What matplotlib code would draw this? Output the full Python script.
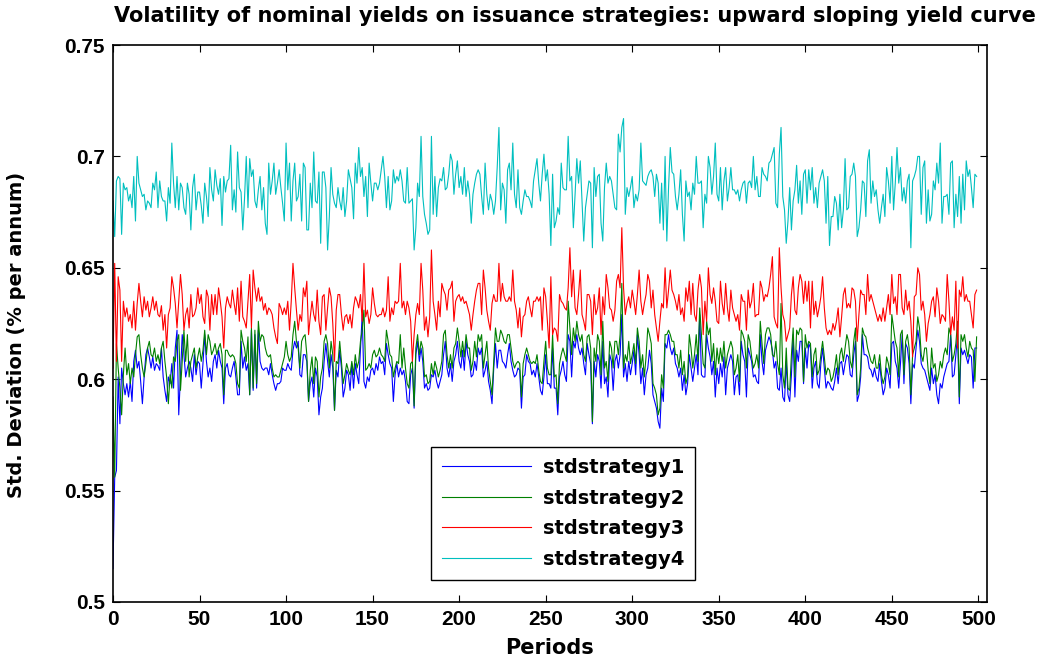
import matplotlib
matplotlib.use("Agg")
import matplotlib.pyplot as plt
import numpy as np

# Std. deviation of nominal yields per period, in thousandths of a percent per annum
std1 = [
    515, 556, 559, 601, 580, 605, 598, 593, 598, 592,
    599, 590, 608, 613, 605, 608, 599, 589, 601, 611,
    614, 610, 605, 610, 604, 607, 606, 604, 614, 601,
    595, 590, 601, 598, 607, 596, 614, 622, 584, 602,
    620, 611, 601, 605, 608, 605, 599, 611, 602, 608,
    607, 596, 607, 620, 608, 601, 605, 599, 608, 611,
    605, 613, 608, 605, 589, 605, 607, 602, 601, 605,
    608, 601, 593, 593, 617, 605, 610, 604, 607, 593,
    622, 595, 620, 596, 622, 608, 605, 604, 605, 605,
    602, 607, 602, 598, 595, 598, 598, 599, 605, 604,
    604, 607, 605, 604, 613, 617, 614, 617,
    602, 601, 611, 611, 608, 590, 598, 601, 592, 605,
    601, 584, 592, 596, 608, 616, 608, 601, 611, 605,
    586, 604, 601, 613, 605, 592, 596, 604, 602, 595,
    607, 596, 607, 602, 598, 614, 629, 599, 596, 601,
    599, 604, 605, 602, 607, 604, 610, 607, 608, 602,
    616, 611, 607, 605, 590, 602, 607, 601,
    605, 602, 604, 599, 590, 589, 602, 605, 587, 611,
    617, 608, 614, 608, 596, 598, 595, 596, 602, 601,
    604, 599, 596, 599, 602, 611, 617, 605, 601, 607,
    599, 608, 611, 617, 608, 605, 613, 604, 617, 611,
    608, 601, 602, 608, 604, 614, 611, 614, 601, 604,
    608, 599, 595, 589, 605, 616, 605, 613,
    613, 608, 607, 605, 611, 616, 608, 604, 601, 602,
    605, 604, 587, 601, 602, 611, 608, 607, 602, 604,
    601, 607, 601, 595, 593, 601, 611, 598, 598, 596,
    614, 596, 596, 584, 601, 604, 608, 602, 599, 620,
    617, 601, 617, 614, 620, 614, 611, 614, 607, 602,
    616, 611, 607, 580, 608, 601, 611,
    608, 596, 617, 598, 601, 592, 611, 608, 595, 608,
    611, 605, 611, 629, 601, 607, 599, 608, 602, 607,
    613, 602, 620, 611, 598, 605, 593, 602, 605, 613,
    607, 593, 590, 587, 581, 578, 596, 590, 616, 614,
    620, 614, 611, 614, 607, 605, 601, 605, 595, 602,
    593, 598, 611, 605, 599, 605, 611, 602,
    629, 602, 601, 601, 620, 614, 610, 602, 608, 592,
    605, 598, 607, 601, 610, 593, 605, 608, 611, 608,
    593, 601, 602, 593, 617, 611, 608, 592, 614, 611,
    608, 601, 602, 599, 598, 620, 608, 602, 613, 616,
    619, 617, 613, 605, 608, 596, 595, 605, 592, 590,
    608, 593, 590, 602, 620, 592, 613, 608,
    617, 617, 598, 614, 605, 616, 614, 596, 605, 608,
    598, 596, 607, 614, 605, 596, 599, 598, 596, 595,
    599, 605, 598, 607, 608, 602, 607, 611, 610, 602,
    601, 611, 617, 590, 593, 601, 620, 611, 611, 610,
    605, 604, 601, 605, 601, 599, 607, 599, 593, 596,
    605, 602, 596, 616, 617, 608, 605, 596,
    607, 620, 598, 616, 614, 607, 589, 607, 605, 614,
    622, 617, 607, 605, 604, 601, 598, 595, 605, 598,
    602, 593, 589, 598, 596, 601, 604, 607, 608, 620,
    601, 602, 611, 620, 589, 614, 611, 613, 610, 607,
    611, 610, 596, 614, 614,
]

std2 = [
    592, 556, 616, 605, 596, 584, 602, 614, 602, 607,
    598, 605, 601, 611, 619, 620, 611, 605, 601, 607,
    614, 617, 611, 610, 614, 608, 611, 607, 614, 617,
    608, 601, 589, 602, 596, 610, 608, 617, 620, 595,
    608, 622, 608, 620, 601, 608, 611, 614, 605, 610,
    614, 608, 613, 622, 611, 620, 617, 611, 613, 616,
    611, 614, 616, 611, 593, 613, 613, 611, 610, 611,
    610, 607, 598, 596, 622, 617, 614, 608, 619, 593,
    623, 596, 622, 598, 626, 617, 620, 619, 614, 611,
    610, 611, 605, 601, 602, 601, 601, 604, 607, 610,
    617, 611, 608, 610, 620, 626, 617, 614,
    605, 617, 619, 620, 611, 590, 604, 610, 598, 610,
    608, 592, 601, 605, 617, 620, 616, 605, 617, 611,
    586, 608, 607, 617, 608, 598, 602, 607, 604, 602,
    608, 602, 611, 605, 608, 617, 622, 631, 604, 605,
    607, 605, 611, 613, 610, 611, 614, 611, 610, 608,
    622, 617, 611, 610, 601, 605, 608, 607,
    620, 605, 614, 605, 598, 596, 607, 608, 588, 614,
    620, 611, 617, 614, 601, 602, 598, 599, 607, 602,
    608, 605, 601, 604, 608, 620, 622, 611, 605, 611,
    605, 614, 616, 623, 617, 610, 617, 610, 620, 614,
    614, 604, 608, 617, 610, 620, 617, 620, 605, 611,
    617, 605, 599, 593, 608, 623, 617, 617,
    622, 620, 617, 616, 620, 620, 614, 608, 605, 607,
    608, 607, 592, 607, 611, 614, 611, 608, 607, 608,
    607, 611, 604, 599, 598, 608, 617, 605, 602, 602,
    620, 601, 602, 589, 607, 611, 614, 611, 608, 635,
    623, 611, 623, 617, 626, 620, 617, 620, 611, 608,
    619, 620, 614, 581, 614, 608, 620,
    617, 602, 626, 605, 608, 599, 617, 614, 605, 617,
    617, 611, 620, 643, 605, 611, 608, 617, 607, 611,
    616, 607, 623, 617, 605, 611, 601, 610, 623, 620,
    616, 598, 596, 593, 584, 587, 602, 596, 620, 620,
    622, 620, 617, 617, 611, 611, 605, 613, 602, 608,
    598, 601, 620, 614, 605, 611, 620, 608,
    632, 620, 607, 605, 626, 620, 623, 608, 616, 602,
    614, 607, 614, 608, 617, 605, 611, 614, 617, 614,
    602, 605, 611, 599, 622, 620, 617, 605, 620, 617,
    610, 605, 607, 611, 605, 626, 616, 607, 620, 623,
    623, 620, 611, 610, 617, 607, 602, 634, 602, 596,
    614, 596, 595, 611, 623, 601, 622, 620,
    623, 622, 599, 620, 614, 617, 616, 601, 611, 614,
    602, 604, 611, 617, 610, 602, 605, 604, 599, 601,
    605, 611, 602, 611, 614, 608, 614, 620, 617, 608,
    605, 617, 623, 593, 596, 605, 623, 620, 619, 614,
    611, 608, 607, 611, 605, 605, 611, 602, 598, 601,
    610, 607, 602, 629, 623, 617, 614, 601,
    620, 622, 602, 617, 620, 614, 593, 611, 614, 617,
    628, 623, 611, 608, 614, 614, 604, 598, 614, 605,
    607, 599, 602, 608, 605, 611, 614, 611, 623, 620,
    608, 611, 616, 626, 592, 620, 617, 620, 614, 610,
    617, 614, 613, 599, 619,
]

std3 = [
    605, 652, 608, 646, 640, 608, 635, 628, 632, 626,
    629, 623, 635, 622, 634, 643, 635, 628, 637, 631,
    635, 628, 632, 637, 631, 635, 629, 628, 633, 622,
    629, 614, 629, 632, 646, 641, 634, 623, 635, 647,
    638, 622, 629, 632, 623, 638, 628, 629, 632, 641,
    634, 638, 628, 625, 640, 637, 622, 638, 629, 638,
    629, 641, 635, 628, 614, 632, 637, 634, 632, 640,
    634, 629, 641, 626, 644, 628, 626, 623, 635, 647,
    623, 649, 641, 635, 641, 635, 637, 631, 634, 629,
    632, 631, 629, 623, 619, 616, 634, 632, 629, 632,
    629, 635, 622, 635, 652, 641, 631, 622,
    629, 626, 641, 637, 644, 620, 628, 635, 629, 626,
    640, 626, 620, 637, 638, 622, 632, 641, 637, 625,
    608, 631, 638, 638, 629, 622, 628, 629, 625, 629,
    623, 632, 637, 635, 632, 638, 626, 652, 628, 631,
    625, 629, 641, 634, 629, 628, 629, 629, 632, 628,
    631, 646, 626, 632, 629, 635, 634, 635,
    652, 632, 635, 629, 635, 632, 626, 608, 620, 629,
    634, 629, 652, 640, 622, 628, 619, 628, 658, 635,
    629, 622, 635, 628, 643, 640, 638, 631, 640, 641,
    644, 626, 635, 637, 638, 635, 637, 634, 635, 632,
    629, 622, 629, 635, 640, 643, 643, 629, 649, 641,
    631, 626, 622, 634, 638, 635, 635, 652,
    635, 643, 637, 635, 635, 637, 635, 649, 635, 631,
    623, 632, 619, 628, 629, 635, 637, 632, 628, 635,
    635, 637, 635, 637, 622, 641, 637, 626, 614, 646,
    620, 623, 622, 617, 638, 635, 634, 632, 631, 641,
    659, 637, 649, 632, 629, 638, 649, 629, 626, 622,
    638, 638, 635, 620, 638, 629, 632,
    641, 620, 637, 629, 647, 641, 632, 631, 626, 631,
    644, 647, 641, 668, 641, 629, 634, 637, 632, 640,
    635, 629, 638, 649, 635, 629, 634, 638, 647, 644,
    632, 640, 629, 623, 617, 626, 634, 632, 650, 632,
    640, 649, 640, 638, 635, 631, 638, 629, 632, 626,
    641, 635, 644, 629, 643, 629, 626, 640,
    647, 641, 620, 635, 626, 650, 638, 634, 641, 635,
    626, 625, 644, 634, 629, 643, 632, 626, 640, 632,
    629, 626, 629, 622, 638, 635, 635, 622, 640, 632,
    635, 643, 628, 629, 629, 644, 641, 635, 638, 637,
    641, 647, 655, 628, 625, 623, 659, 641, 629, 626,
    617, 620, 623, 638, 646, 631, 629, 641,
    647, 644, 634, 644, 635, 644, 623, 644, 629, 635,
    628, 632, 637, 646, 632, 623, 620, 622, 620, 625,
    622, 626, 632, 619, 628, 638, 641, 632, 634, 632,
    641, 640, 635, 617, 629, 640, 638, 638, 629, 647,
    635, 638, 635, 632, 629, 626, 629, 626, 632, 626,
    632, 638, 629, 647, 634, 637, 629, 647,
    647, 632, 629, 640, 631, 635, 626, 610, 637, 638,
    650, 647, 631, 635, 629, 617, 625, 629, 635, 637,
    628, 641, 635, 625, 629, 628, 626, 647, 635, 620,
    628, 622, 644, 614, 640, 637, 646, 635, 638, 635,
    635, 629, 623, 638, 640,
]

std4 = [
    680, 664, 689, 691, 690, 665, 688, 685, 686, 680,
    683, 677, 691, 671, 700, 688, 685, 682, 683, 676,
    680, 679, 677, 688, 685, 693, 677, 689, 682, 680,
    680, 671, 686, 679, 706, 688, 677, 691, 676, 688,
    686, 677, 674, 688, 683, 667, 686, 692, 676, 684,
    684, 678, 670, 688, 682, 673, 695, 685, 680, 694,
    687, 683, 690, 669, 691, 684, 689, 690, 705, 676,
    685, 675, 702, 686, 684, 667, 681, 700, 677, 699,
    691, 694, 680, 677, 685, 691, 676, 686, 670, 665,
    697, 683, 689, 697, 683, 688, 694, 686, 679, 671,
    706, 685, 697, 671, 689, 697, 680, 682,
    692, 671, 697, 695, 667, 667, 688, 677, 702, 680,
    679, 693, 661, 693, 693, 686, 658, 673, 695, 683,
    679, 677, 686, 680, 676, 686, 673, 680, 694, 690,
    686, 672, 697, 688, 704, 691, 695, 682, 691, 673,
    697, 688, 680, 688, 688, 685, 688, 694, 700, 691,
    677, 691, 676, 680, 694, 688, 691, 689,
    694, 689, 680, 679, 695, 679, 680, 681, 658, 668,
    688, 682, 709, 682, 674, 670, 665, 667, 709, 674,
    691, 673, 686, 690, 689, 695, 685, 686, 692, 701,
    698, 683, 692, 698, 686, 691, 683, 695, 682, 689,
    683, 670, 683, 688, 692, 694, 692, 682, 674, 697,
    683, 676, 683, 680, 674, 680, 695, 713,
    676, 688, 685, 670, 694, 697, 685, 706, 683, 677,
    694, 677, 674, 680, 685, 682, 682, 680, 677, 689,
    694, 699, 688, 680, 692, 701, 689, 694, 683, 660,
    692, 668, 671, 677, 674, 697, 686, 685, 685, 709,
    689, 691, 668, 683, 699, 688, 698, 680, 662, 677,
    683, 689, 688, 659, 695, 682, 691,
    692, 670, 662, 686, 697, 688, 691, 689, 683, 677,
    676, 710, 702, 713, 717, 674, 686, 682, 686, 691,
    677, 683, 680, 685, 706, 689, 688, 687, 691, 693,
    694, 691, 682, 692, 688, 670, 688, 667, 700, 662,
    686, 704, 693, 692, 682, 676, 683, 694, 674, 662,
    689, 682, 684, 676, 688, 683, 700, 688,
    688, 689, 668, 683, 679, 700, 695, 683, 691, 706,
    683, 680, 695, 676, 689, 695, 680, 686, 695, 685,
    685, 683, 685, 680, 685, 688, 689, 679, 688, 689,
    686, 700, 685, 691, 682, 682, 695, 692, 691, 689,
    697, 698, 701, 704, 679, 677, 701, 713, 682, 676,
    661, 671, 686, 667, 680, 685, 696, 679,
    689, 674, 692, 694, 679, 694, 685, 695, 679, 686,
    677, 688, 691, 694, 689, 670, 691, 660, 673, 673,
    682, 679, 667, 683, 668, 676, 699, 676, 677, 691,
    692, 697, 691, 664, 668, 676, 689, 688, 673, 698,
    703, 679, 689, 682, 685, 676, 670, 677, 683, 673,
    695, 689, 679, 700, 676, 688, 704, 688,
    695, 680, 686, 679, 689, 692, 659, 689, 691, 694,
    700, 700, 674, 695, 698, 670, 685, 671, 674, 689,
    685, 697, 688, 706, 670, 682, 682, 683, 674, 697,
    698, 668, 683, 673, 691, 670, 692, 676, 698, 691,
    694, 686, 677, 692, 691,
]

labels = ["stdstrategy1", "stdstrategy2", "stdstrategy3", "stdstrategy4"]
colors = ["#0000FF", "#008000", "#FF0000", "#00BFBF"]
xticks = list(range(0, 501, 50))
yticks = [0.5, 0.55, 0.6, 0.65, 0.7, 0.75]
ytick_labels = ["0.5", "0.55", "0.6", "0.65", "0.7", "0.75"]

plt.rcParams["font.family"] = ["Liberation Sans", "DejaVu Sans"]
plt.rcParams["font.weight"] = "bold"

fig = plt.figure(figsize=(10.48, 6.59), dpi=100)
ax = fig.add_axes([0.1078, 0.0865, 0.834, 0.8452])

for vals, lab, col in zip((std1, std2, std3, std4), labels, colors):
    y = np.array(vals) / 1000.0
    ax.plot(np.arange(len(y)), y, color=col, lw=0.8, label=lab)

ax.set_xlim(0, 505)
ax.set_ylim(0.5, 0.75)
ax.set_xticks(xticks)
ax.set_yticks(yticks)
ax.set_yticklabels(ytick_labels)
ax.tick_params(direction="in", top=True, right=True, length=5, width=0.8,
               labelsize=15, pad=6)
for sp in ax.spines.values():
    sp.set_linewidth(1.2)

lab_font = dict(family="DejaVu Sans", weight="bold", size=15)
ax.set_xlabel("Periods", fontdict=lab_font)
ax.xaxis.set_label_coords(0.5, -0.064)
ax.set_ylabel("Std. Deviation (% per annum)", fontdict=dict(lab_font, size=14))
ax.yaxis.set_label_coords(-0.100, 0.48)

fig.text(0.549, 0.9666,
         "Volatility of nominal yields on issuance strategies: upward sloping yield curve",
         ha="center", va="baseline", family="DejaVu Sans", weight="bold", size=15)

leg = ax.legend(loc="upper left", bbox_to_anchor=(0.364, 0.278), borderaxespad=0,
                prop=dict(family="DejaVu Sans", weight="bold", size=14),
                fancybox=False, edgecolor="black", framealpha=1,
                borderpad=0.55, handlelength=4.6, handletextpad=0.6, labelspacing=0.6)
leg.get_frame().set_linewidth(1.0)

fig.savefig("out.png", dpi=100)
